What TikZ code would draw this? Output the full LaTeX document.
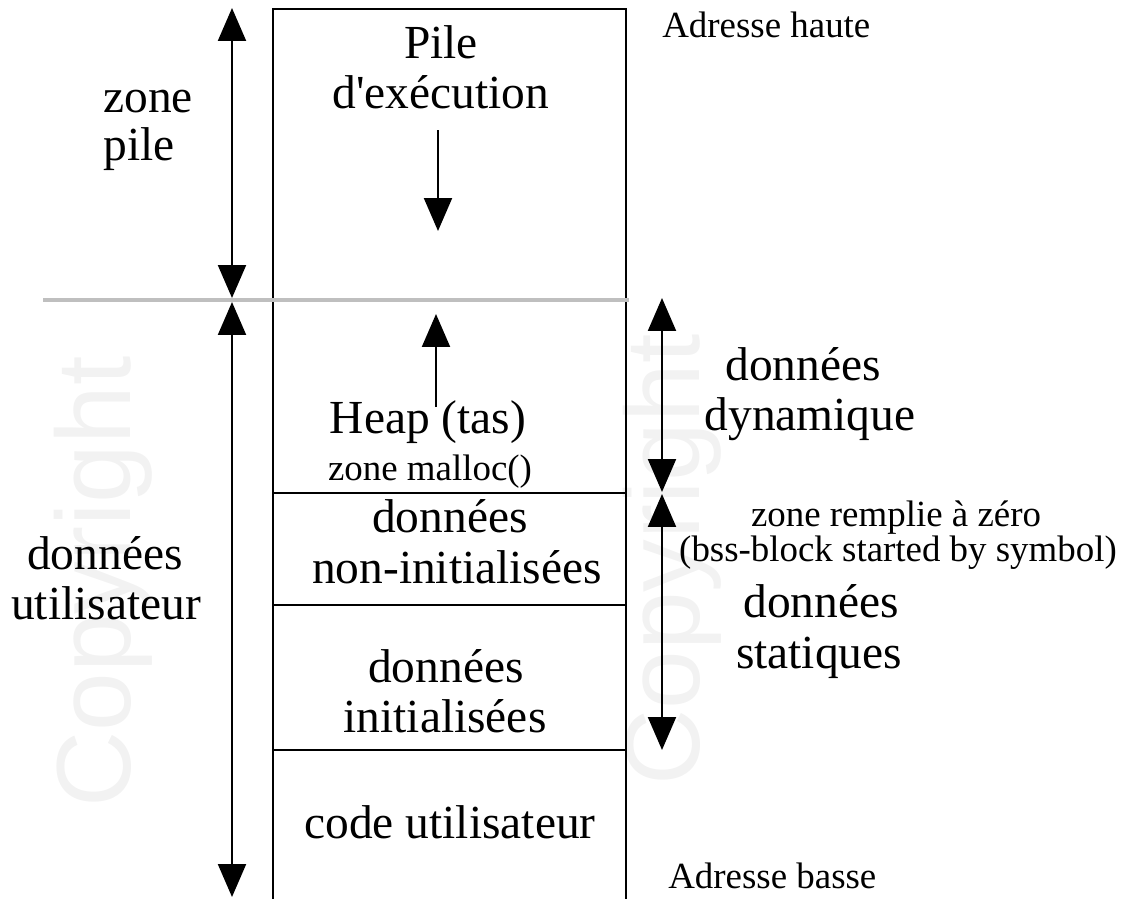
\documentclass[tikz,border=0pt]{standalone}
\usepackage{fontspec}
\setmainfont{Liberation Serif}
\newfontfamily\wmfont{Liberation Sans}
\usetikzlibrary{arrows.meta}
\begin{document}
\begin{tikzpicture}[x=0.02cm,y=-0.02cm,
  big/.style={font=\fontsize{27}{27}\selectfont, inner sep=0pt, anchor=base},
  small/.style={font=\fontsize{21}{21}\selectfont, inner sep=0pt, anchor=base},
  tip/.tip={Triangle[width=0.56cm,length=0.66cm]},
  onearrow/.style={line width=1.2pt, -tip},
  dblarrow/.style={line width=1.2pt, tip-tip},
  boxline/.style={line width=1.2pt},
  sepline/.style={line width=1.8pt, draw=black!25},
  watermark/.style={font=\wmfont\fontsize{60}{60}\selectfont, text=black!5, rotate=90, inner sep=0pt}]
\useasboundingbox (0,0) rectangle (1126,899);

% watermark
\node[watermark] (wm1) at (103,582) {Copyright};
\node[watermark] (wm2) at (672,560) {Copyright};

% memory column
\coordinate (tl) at (273,9);
\coordinate (tr) at (626,9);
\coordinate (bl) at (273,899);
\coordinate (br) at (626,899);
\draw[boxline] (bl) -- (tl) -- (tr) -- (br);
\coordinate (d1l) at (273,493); \coordinate (d1r) at (626,493);
\coordinate (d2l) at (273,605); \coordinate (d2r) at (626,605);
\coordinate (d3l) at (273,750); \coordinate (d3r) at (626,750);
\draw[boxline] (d1l) -- (d1r);
\draw[boxline] (d2l) -- (d2r);
\draw[boxline] (d3l) -- (d3r);

% grey separation line
\coordinate (sl) at (43,300);
\coordinate (sr) at (629,300);
\draw[sepline] (sl) -- (sr);

% texts inside the column
\node[big] (pile) at (441,58) {Pile};
\node[big] (exec) at (441,108) {d\textquotesingle exécution};
\node[big] (heap) at (428,433) {Heap (tas)};
\node[small] (malloc) at (430,480) {zone malloc()};
\node[big] (dnu1) at (450,532) {données};
\node[big] (dnu2) at (457,583) {non-initialisées};
\node[big] (di1) at (446,682) {données};
\node[big] (di2) at (445,732) {initialisées};
\node[big] (code) at (450,838) {code utilisateur};

% arrows inside the column
\coordinate (sa) at (438,130);
\coordinate (sb) at (438,231);
\draw[onearrow] (sa) -- (sb);
\coordinate (ha) at (436,407);
\coordinate (hb) at (436,314);
\draw[onearrow] (ha) -- (hb);

% left side
\node[big, anchor=base west] (zone) at (103,112) {zone};
\node[big, anchor=base west] (pilew) at (103,160) {pile};
\node[big] (du1) at (105,569) {données};
\node[big] (du2) at (106,619) {utilisateur};
\coordinate (la) at (232,8);
\coordinate (lb) at (232,298);
\coordinate (lc) at (232,302);
\coordinate (ld) at (232,897);
\draw[dblarrow] (la) -- (lb);
\draw[dblarrow] (lc) -- (ld);

% right side
\node[small, anchor=base west] (haute) at (662,37) {Adresse haute};
\node[small, anchor=base west] (basse) at (668,888) {Adresse basse};
\node[big] (dd1) at (803,380) {données};
\node[big] (dd2) at (810,430) {dynamique};
\node[small] (zr) at (896,526) {zone remplie à zéro};
\node[small] (bss) at (898,561) {(bss-block started by symbol)};
\node[big] (ds1) at (821,617) {données};
\node[big] (ds2) at (819,668) {statiques};
\coordinate (ra) at (662,298);
\coordinate (rb) at (662,492);
\coordinate (rc) at (662,494);
\coordinate (rd) at (662,750);
\draw[dblarrow] (ra) -- (rb);
\draw[dblarrow] (rc) -- (rd);
\end{tikzpicture}
\end{document}
